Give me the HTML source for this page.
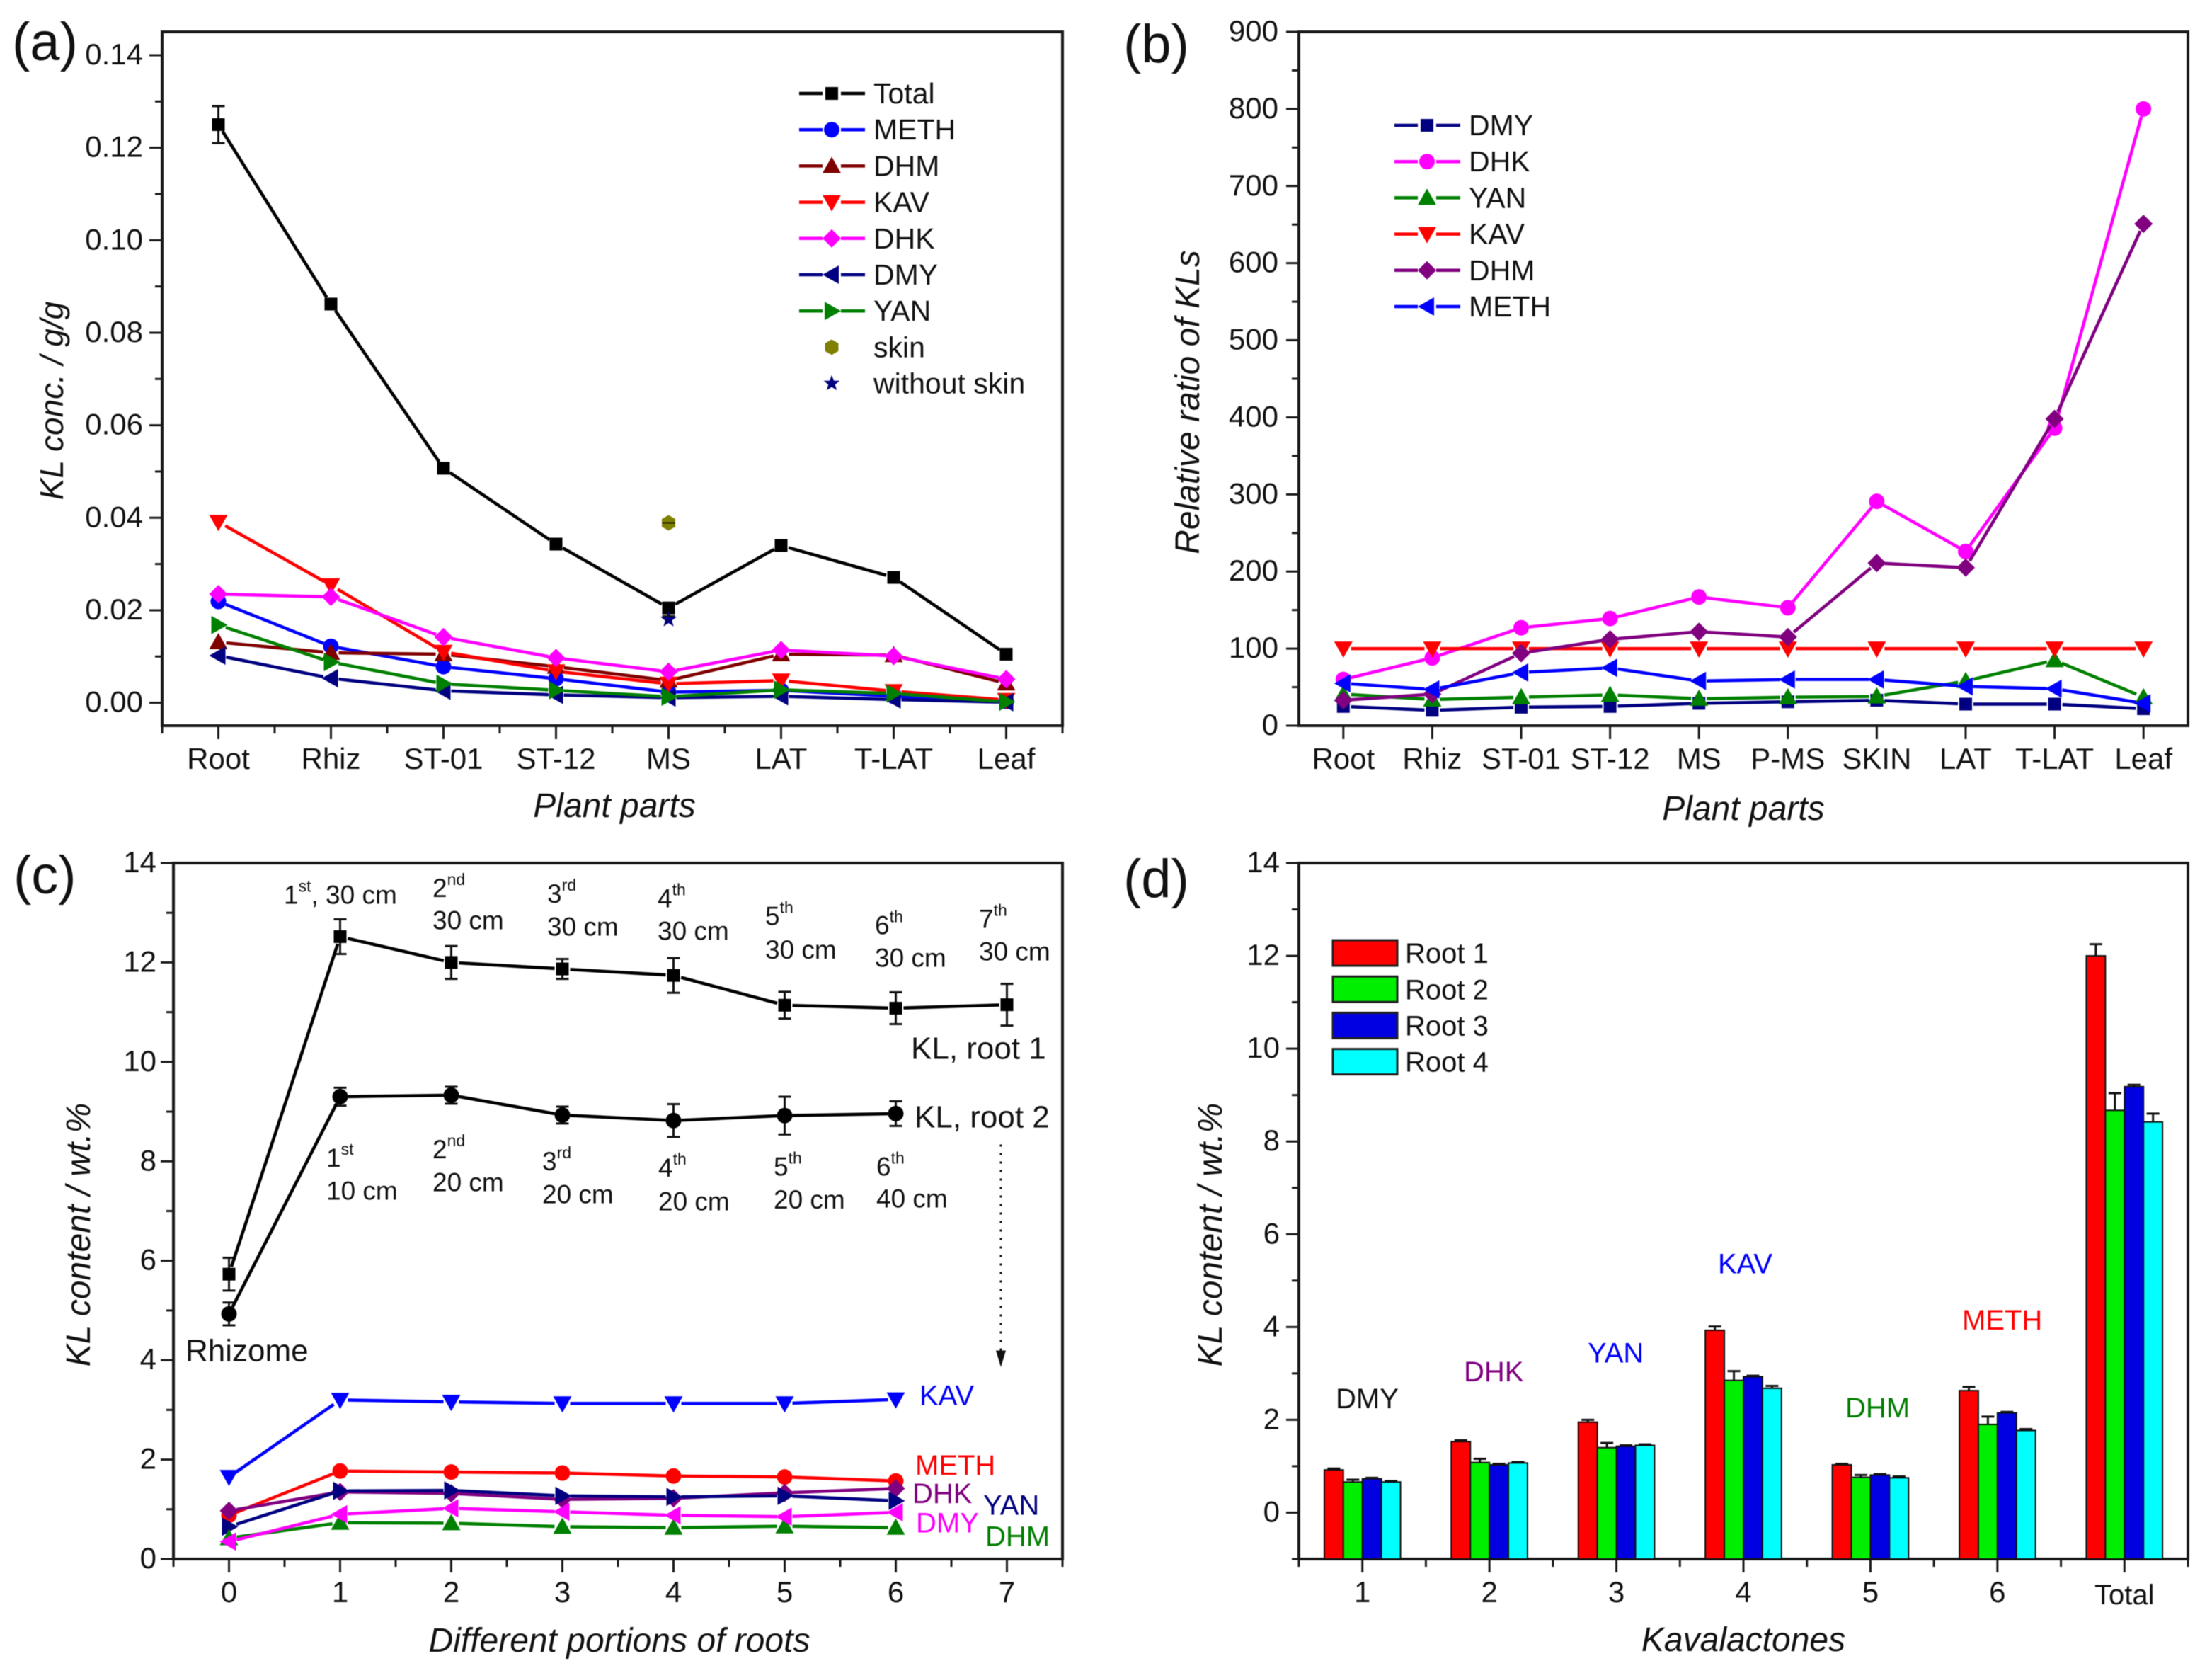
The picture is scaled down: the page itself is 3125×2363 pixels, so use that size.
<!DOCTYPE html>
<html lang="en">
<head>
<meta charset="utf-8">
<title>Kavalactone content charts</title>
<style>
html,body{margin:0;padding:0;background:#fff;}
svg{display:block;filter:blur(0.6px);}
text{font-family:"Liberation Sans",Arial,sans-serif;fill:#111;}
</style>
</head>
<body>
<svg id="figure" xmlns="http://www.w3.org/2000/svg" width="3125" height="2363" viewBox="0 0 3125 2363"></svg>
<script>
// ---------- Panel (a) data ----------
const aCategories = ['Root','Rhiz','ST-01','ST-12','MS','LAT','T-LAT','Leaf'];
const aYTicks = [0,0.02,0.04,0.06,0.08,0.10,0.12,0.14];
const aTotal = [0.125,0.0862,0.0507,0.0343,0.0205,0.034,0.0271,0.0105];
const aTotalErr = [0.004,0.0008,0.001,0.0008,0.001,0.001,0.0008,0.0008];
const aMeth = [0.0219,0.0122,0.0078,0.0052,0.0023,0.0027,0.0014,0.0003];
const aDhm = [0.0131,0.0108,0.0105,0.0078,0.0048,0.0105,0.0103,0.0042];
const aKav = [0.0391,0.0254,0.011,0.0068,0.0041,0.0048,0.0025,0.0006];
const aDhk = [0.0235,0.0229,0.0142,0.0097,0.0067,0.0114,0.0101,0.0051];
const aDmy = [0.0102,0.0053,0.0026,0.0017,0.0011,0.0014,0.0007,0.0001];
const aYan = [0.0168,0.0088,0.0041,0.0027,0.0013,0.0028,0.002,0.0002];
const aSkinValue = [0.0389];
const aNoSkinValue = [0.018];

// ---------- Panel (b) data ----------
const bCategories = ['Root','Rhiz','ST-01','ST-12','MS','P-MS','SKIN','LAT','T-LAT','Leaf'];
const bYTicks = [0,100,200,300,400,500,600,700,800,900];
const bDmy = [25,20,24,25,29,31,33,28,28,22];
const bDhk = [60,88,127,139,167,153,291,226,386,800];
const bYan = [41,34,37,40,35,37,38,58,85,37];
const bKav = [100,100,100,100,100,100,100,100,100,100];
const bDhm = [33,41,94,112,122,115,211,205,398,651];
const bMeth = [55,47,69,75,58,60,60,51,48,29];

// ---------- Panel (c) data ----------
const cXTicks = [0,1,2,3,4,5,6,7];
const cYTicks = [0,2,4,6,8,10,12,14];
const cRoot1 = [5.73,12.52,12.0,11.87,11.74,11.14,11.08,11.15];
const cRoot1Err = [0.33,0.35,0.33,0.2,0.35,0.27,0.32,0.42];
const cRoot2 = [4.93,9.3,9.33,8.93,8.82,8.92,8.96];
const cRoot2Err = [0.23,0.18,0.17,0.17,0.33,0.38,0.25];
const cKav = [1.65,3.2,3.16,3.13,3.13,3.13,3.21];
const cMeth = [0.88,1.77,1.75,1.73,1.67,1.65,1.57];
const cDhk = [0.97,1.35,1.32,1.2,1.22,1.33,1.42];
const cYan = [0.65,1.37,1.38,1.27,1.25,1.27,1.17];
const cDmy = [0.35,0.9,1.02,0.95,0.88,0.85,0.94];
const cDhm = [0.42,0.73,0.72,0.65,0.63,0.66,0.63];

// ---------- Panel (d) data ----------
const dCategories = ['1','2','3','4','5','6','Total'];
const dYTicks = [0,2,4,6,8,10,12,14];
const dRoot1 = [0.92,1.53,1.95,3.93,1.03,2.63,12.0];
const dRoot2 = [0.66,1.08,1.4,2.85,0.76,1.9,8.67];
const dRoot3 = [0.73,1.03,1.43,2.93,0.81,2.15,9.18];
const dRoot4 = [0.66,1.07,1.45,2.68,0.75,1.77,8.42];
const dRoot1Err = [0.03,0.03,0.05,0.08,0.02,0.08,0.25];
const dRoot2Err = [0.05,0.08,0.1,0.2,0.05,0.17,0.37];
const dRoot3Err = [0.02,0.02,0.02,0.02,0.02,0.02,0.04];
const dRoot4Err = [0.02,0.02,0.02,0.05,0.03,0.03,0.18];

// ---------- Helpers ----------
const NS = 'http://www.w3.org/2000/svg';
const svg = document.getElementById('figure');

function make(tag, attrs, name, parent) {
  const e = document.createElementNS(NS, tag);
  for (const k in attrs) e.setAttribute(k, attrs[k]);
  
  
  parent.appendChild(e);
  return e;
}
function group(name) {
  return make('g', {}, name, svg);
}
function scale(d0, d1, r0, r1) {
  return v => r0 + (v - d0) * (r1 - r0) / (d1 - d0);
}
function text(parent, name, str, x, y, size, opts) {
  const o = opts || {};
  const t = make('text', {x: x, y: y, 'font-size': size}, name, parent);
  if (o.anchor) t.setAttribute('text-anchor', o.anchor);
  if (o.color) t.setAttribute('style', 'fill:' + o.color);
  if (o.italic) t.setAttribute('font-style', 'italic');
  if (o.rotate) t.setAttribute('transform', 'rotate(-90 ' + x + ' ' + y + ')');
  t.textContent = str;
  return t;
}
function polyPoints(list) {
  return list.map(p => p[0].toFixed(1) + ',' + p[1].toFixed(1)).join(' ');
}
function marker(parent, name, shape, x, y, color) {
  if (shape === 'square') {
    return make('rect', {x: x - 9, y: y - 9, width: 18, height: 18, fill: color}, name, parent);
  }
  if (shape === 'circle') {
    return make('circle', {cx: x, cy: y, r: 11, fill: color}, name, parent);
  }
  let pts = [];
  if (shape === 'up') pts = [[x - 13, y + 10], [x + 13, y + 10], [x, y - 13]];
  if (shape === 'down') pts = [[x - 13, y - 10], [x + 13, y - 10], [x, y + 13]];
  if (shape === 'left') pts = [[x + 10, y - 13], [x + 10, y + 13], [x - 13, y]];
  if (shape === 'right') pts = [[x - 10, y - 13], [x - 10, y + 13], [x + 13, y]];
  if (shape === 'diamond') pts = [[x, y - 13], [x + 13, y], [x, y + 13], [x - 13, y]];
  if (shape === 'hexagon') {
    for (let i = 0; i < 6; i++) {
      const a = Math.PI / 3 * i - Math.PI / 2;
      pts.push([x + 11 * Math.cos(a), y + 11 * Math.sin(a)]);
    }
  }
  if (shape === 'star') {
    for (let i = 0; i < 10; i++) {
      const a = Math.PI / 5 * i - Math.PI / 2;
      const r = i % 2 ? 5 : 12;
      pts.push([x + r * Math.cos(a), y + r * Math.sin(a)]);
    }
  }
  return make('polygon', {points: polyPoints(pts), fill: color}, name, parent);
}
function segment(parent, name, x1, y1, x2, y2, color, width) {
  return make('line', {x1: x1, y1: y1, x2: x2, y2: y2, stroke: color, 'stroke-width': width}, name, parent);
}
function trimmedLine(parent, name, xs, ys, color) {
  const gap = 11;
  for (let i = 0; i + 1 < xs.length; i++) {
    const dx = xs[i + 1] - xs[i], dy = ys[i + 1] - ys[i];
    const len = Math.hypot(dx, dy);
    if (len <= 2 * gap) continue;
    const ux = dx / len * gap, uy = dy / len * gap;
    segment(parent, name + '-segment', xs[i] + ux, ys[i] + uy, xs[i + 1] - ux, ys[i + 1] - uy, color, 4.5);
  }
}
function drawSeries(parent, name, values, xScale, yScale, shape, color) {
  const g = make('g', {}, name, parent);
  const xs = values.map((v, i) => xScale(i));
  const ys = values.map(v => yScale(v));
  trimmedLine(g, name + '-line', xs, ys, color);
  values.forEach((v, i) => {
    marker(g, name + '-point', shape, xs[i], ys[i], color);
  });
}
function errorBars(parent, name, values, errs, xScale, yScale, both) {
  values.forEach((v, i) => {
    const x = xScale(i);
    const top = yScale(v + errs[i]);
    const bot = both ? yScale(v - errs[i]) : yScale(v);
    segment(parent, name + '-stem', x, top, x, bot, '#111', 3);
    segment(parent, name + '-cap', x - 9, top, x + 9, top, '#111', 3);
    if (both) segment(parent, name + '-cap', x - 9, bot, x + 9, bot, '#111', 3);
  });
}
function frame(parent, name, left, top, right, bottom) {
  make('rect', {x: left, y: top, width: right - left, height: bottom - top, fill: 'none', stroke: '#1a1a1a', 'stroke-width': 4}, name, parent);
}
function yAxis(parent, left, yScale, ticks, minorStep, minV, maxV, labelRight, fmt) {
  for (let v = minV; v <= maxV + 1e-9; v += minorStep) {
    const isMajor = ticks.some(t => Math.abs(t - v) < minorStep / 10);
    segment(parent, isMajor ? 'y-major-tick' : 'y-minor-tick', left - (isMajor ? 18 : 10), yScale(v), left, yScale(v), '#1a1a1a', 3);
  }
  ticks.forEach(t => {
    text(parent, 'y-tick-label', fmt(t), labelRight, yScale(t) + 13, 42, {anchor: 'end'});
  });
}
function xAxis(parent, bottom, xScale, count, withMinor) {
  for (let i = 0; i < count; i++) {
    segment(parent, 'x-major-tick', xScale(i), bottom, xScale(i), bottom + 19, '#1a1a1a', 3);
  }
  if (!withMinor) return;
  for (let i = -1; i < count; i++) {
    const x = xScale(i + 0.5);
    segment(parent, 'x-minor-tick', x, bottom, x, bottom + 11, '#1a1a1a', 3);
  }
}
function legendRow(parent, name, label, shape, color, x, y, hasLine) {
  const g = make('g', {}, name, parent);
  if (hasLine) {
    segment(g, name + '-line-left', x, y, x + 33, y, color, 4.5);
    segment(g, name + '-line-right', x + 59, y, x + 93, y, color, 4.5);
  }
  marker(g, name + '-symbol', shape, x + 46, y, color);
  text(g, name + '-label', label, x + 105, y + 14, 41);
}

// ---------- Panel (a) ----------
const pa = group('panel-a');
const xA = scale(-0.5, 7.5, 229, 1501);
const yA = scale(0, 0.14, 992.6, 78);
frame(pa, 'plot-frame-a', 229, 45, 1501, 1025);
yAxis(pa, 229, yA, aYTicks, 0.01, 0, 0.14, 202, v => v.toFixed(2));
xAxis(pa, 1025, xA, aCategories.length, true);
aCategories.forEach((c, i) => {
  text(pa, 'x-tick-label', c, xA(i), 1086, 42, {anchor: 'middle'});
});
text(pa, 'x-axis-title', 'Plant parts', 868, 1154, 48, {anchor: 'middle', italic: true});
text(pa, 'y-axis-title', 'KL conc. / g/g', 89, 566, 46, {anchor: 'middle', italic: true, rotate: true});
text(pa, 'panel-label-a', '(a)', 17, 85, 76);
errorBars(pa, 'total-error', aTotal, aTotalErr, xA, yA, true);
drawSeries(pa, 'series-total', aTotal, xA, yA, 'square', '#000000');
drawSeries(pa, 'series-meth', aMeth, xA, yA, 'circle', '#0000ff');
drawSeries(pa, 'series-dhm', aDhm, xA, yA, 'up', '#800000');
drawSeries(pa, 'series-kav', aKav, xA, yA, 'down', '#ff0000');
drawSeries(pa, 'series-dhk', aDhk, xA, yA, 'diamond', '#ff00ff');
drawSeries(pa, 'series-dmy', aDmy, xA, yA, 'left', '#000080');
drawSeries(pa, 'series-yan', aYan, xA, yA, 'right', '#008000');
marker(pa, 'skin-point', 'hexagon', xA(4), yA(aSkinValue[0]), '#808000');
segment(pa, 'skin-error', xA(4) - 9, yA(aSkinValue[0]), xA(4) + 9, yA(aSkinValue[0]), '#111', 2);
marker(pa, 'without-skin-point', 'star', xA(4), yA(aNoSkinValue[0]), '#000080');
segment(pa, 'without-skin-error', xA(4) - 9, yA(aNoSkinValue[0]) - 5, xA(4) + 9, yA(aNoSkinValue[0]) - 5, '#111', 2);
const la = make('g', {}, 'legend-a', pa);
const laRows = [['Total','square','#000000',1],['METH','circle','#0000ff',1],['DHM','up','#800000',1],['KAV','down','#ff0000',1],['DHK','diamond','#ff00ff',1],['DMY','left','#000080',1],['YAN','right','#008000',1],['skin','hexagon','#808000',0],['without skin','star','#000080',0]];
laRows.forEach((r, i) => {
  legendRow(la, 'legend-entry-' + r[0].replace(' ', '-').toLowerCase(), r[0], r[1], r[2], 1129, 132 + i * 51.2, r[3]);
});

// ---------- Panel (b) ----------
const pb = group('panel-b');
const xB = scale(-0.5, 9.5, 1835, 3091);
const yB = scale(0, 900, 1025, 45);
frame(pb, 'plot-frame-b', 1835, 45, 3091, 1025);
yAxis(pb, 1835, yB, bYTicks, 50, 0, 900, 1806, v => String(v));
xAxis(pb, 1025, xB, bCategories.length, false);
bCategories.forEach((c, i) => {
  text(pb, 'x-tick-label', c, xB(i), 1086, 42, {anchor: 'middle'});
});
text(pb, 'x-axis-title', 'Plant parts', 2463, 1158, 48, {anchor: 'middle', italic: true});
text(pb, 'y-axis-title', 'Relative ratio of KLs', 1694, 568, 48, {anchor: 'middle', italic: true, rotate: true});
text(pb, 'panel-label-b', '(b)', 1587, 88, 76);
drawSeries(pb, 'series-dmy', bDmy, xB, yB, 'square', '#000080');
drawSeries(pb, 'series-dhk', bDhk, xB, yB, 'circle', '#ff00ff');
drawSeries(pb, 'series-yan', bYan, xB, yB, 'up', '#008000');
drawSeries(pb, 'series-kav', bKav, xB, yB, 'down', '#ff0000');
drawSeries(pb, 'series-dhm', bDhm, xB, yB, 'diamond', '#800080');
drawSeries(pb, 'series-meth', bMeth, xB, yB, 'left', '#0000ff');
const lb = make('g', {}, 'legend-b', pb);
const lbRows = [['DMY','square','#000080'],['DHK','circle','#ff00ff'],['YAN','up','#008000'],['KAV','down','#ff0000'],['DHM','diamond','#800080'],['METH','left','#0000ff']];
lbRows.forEach((r, i) => {
  legendRow(lb, 'legend-entry-' + r[0].toLowerCase(), r[0], r[1], r[2], 1970, 177 + i * 51.2, 1);
});

// ---------- Panel (c) ----------
const pc = group('panel-c');
const xC = scale(-0.5, 7.5, 245, 1501);
const yC = scale(0, 14, 2202, 1219);
const zc = z => 1178 + z * 0.756;
frame(pc, 'plot-frame-c', 245, 1219, 1501, 2202);
yAxis(pc, 245, yC, cYTicks, 1, 0, 14, 221, v => String(v));
xAxis(pc, 2202, xC, cXTicks.length, true);
cXTicks.forEach((c, i) => {
  text(pc, 'x-tick-label', String(c), xC(i), 2263, 42, {anchor: 'middle'});
});
text(pc, 'x-axis-title', 'Different portions of roots', 875, 2333, 48, {anchor: 'middle', italic: true});
text(pc, 'y-axis-title', 'KL content / wt.%', 127, 1744, 48, {anchor: 'middle', italic: true, rotate: true});
text(pc, 'panel-label-c', '(c)', 19, 1262, 76);
errorBars(pc, 'root1-error', cRoot1, cRoot1Err, xC, yC, true);
errorBars(pc, 'root2-error', cRoot2, cRoot2Err, xC, yC, true);
drawSeries(pc, 'series-kl-root-1', cRoot1, xC, yC, 'square', '#000000');
drawSeries(pc, 'series-kl-root-2', cRoot2, xC, yC, 'circle', '#000000');
drawSeries(pc, 'series-kav', cKav, xC, yC, 'down', '#0000ff');
drawSeries(pc, 'series-meth', cMeth, xC, yC, 'circle', '#ff0000');
drawSeries(pc, 'series-dhk', cDhk, xC, yC, 'diamond', '#800080');
drawSeries(pc, 'series-yan', cYan, xC, yC, 'right', '#000080');
drawSeries(pc, 'series-dhm', cDhm, xC, yC, 'up', '#008000');
drawSeries(pc, 'series-dmy', cDmy, xC, yC, 'left', '#ff00ff');

function ordinal(parent, name, num, sup, tail, x, y) {
  const t = make('text', {x: x, y: y, 'font-size': 37}, name, parent);
  t.appendChild(document.createTextNode(num));
  const s = document.createElementNS(NS, 'tspan');
  s.setAttribute('font-size', 23);
  s.setAttribute('dy', -17);
  s.textContent = sup;
  t.appendChild(s);
  if (tail) {
    const r = document.createElementNS(NS, 'tspan');
    r.setAttribute('dy', 17);
    r.textContent = tail;
    t.appendChild(r);
  }
}
ordinal(pc, 'annotation-root1-portion-1', '1', 'st', ', 30 cm', 401, zc(130));
const upperNotes = [['2','nd',611,118,178],['3','rd',773,128,190],['4','th',929,137,198],['5','th',1081,170,233],['6','th',1236,187,248],['7','th',1383,175,236]];
upperNotes.forEach(n => {
  ordinal(pc, 'annotation-root1-portion-' + n[0], n[0], n[1], '', n[2], zc(n[3]));
  text(pc, 'annotation-root1-length-' + n[0], '30 cm', n[2], zc(n[4]), 37);
});
const lowerNotes = [['1','st','10 cm',461,622,683],['2','nd','20 cm',611,606,667],['3','rd','20 cm',766,628,690],['4','th','20 cm',930,640,703],['5','th','20 cm',1093,638,700],['6','th','40 cm',1238,638,698]];
lowerNotes.forEach(n => {
  ordinal(pc, 'annotation-root2-portion-' + n[0], n[0], n[1], '', n[3], zc(n[4]));
  text(pc, 'annotation-root2-length-' + n[0], n[2], n[3], zc(n[5]), 37);
});
text(pc, 'label-kl-root-1', 'KL, root 1', 1287, zc(420), 44);
text(pc, 'label-kl-root-2', 'KL, root 2', 1292, zc(548), 44);
text(pc, 'label-rhizome', 'Rhizome', 262, zc(985), 44);
text(pc, 'label-kav', 'KAV', 1299, zc(1067), 40, {color: '#0000ff'});
text(pc, 'label-meth', 'METH', 1293, zc(1197), 40, {color: '#ff0000'});
text(pc, 'label-dhk', 'DHK', 1289, zc(1250), 40, {color: '#800080'});
text(pc, 'label-dmy', 'DMY', 1294, zc(1305), 40, {color: '#ff00ff'});
text(pc, 'label-yan', 'YAN', 1389, zc(1272), 40, {color: '#000080'});
text(pc, 'label-dhm', 'DHM', 1392, zc(1330), 40, {color: '#008000'});
const dotted = segment(pc, 'dotted-arrow-line', 1414, zc(580), 1414, zc(965), '#111', 3);
dotted.setAttribute('stroke-dasharray', '3 9');
make('polygon', {points: polyPoints([[1407, zc(965)], [1421, zc(965)], [1414, zc(996)]]), fill: '#111'}, 'dotted-arrow-head', pc);

// ---------- Panel (d) ----------
const pd = group('panel-d');
const xD = scale(-0.5, 6.5, 1835, 3091);
const yD = scale(-1, 14, 2202, 1219);
frame(pd, 'plot-frame-d', 1835, 1219, 3091, 2202);
yAxis(pd, 1835, yD, dYTicks, 1, -1, 14, 1808, v => String(v));
xAxis(pd, 2202, xD, dCategories.length, true);
dCategories.forEach((c, i) => {
  text(pd, 'x-tick-label', c, xD(i), i === 6 ? 2266 : 2263, i === 6 ? 40 : 42, {anchor: 'middle'});
});
text(pd, 'x-axis-title', 'Kavalactones', 2463, 2332, 48, {anchor: 'middle', italic: true});
text(pd, 'y-axis-title', 'KL content / wt.%', 1726, 1744, 48, {anchor: 'middle', italic: true, rotate: true});
text(pd, 'panel-label-d', '(d)', 1587, 1267, 76);
const dColors = ['#ff0000','#00ee00','#0000e0','#00ffff'];
const dSeries = [dRoot1, dRoot2, dRoot3, dRoot4];
const dErrors = [dRoot1Err, dRoot2Err, dRoot3Err, dRoot4Err];
const barWidth = 0.15;
dSeries.forEach((values, s) => {
  const g = make('g', {}, 'bars-root-' + (s + 1), pd);
  const barLeft = i => xD(i + (s - 2) * barWidth);
  const barCenter = i => xD(i + (s - 1.5) * barWidth);
  errorBars(g, 'root-' + (s + 1) + '-error', values, dErrors[s], barCenter, yD, false);
  values.forEach((v, i) => {
    const top = yD(v);
    const bar = make('rect', {x: barLeft(i), y: top, width: xD(barWidth) - xD(0), height: yD(-1) - top, fill: dColors[s], stroke: '#111', 'stroke-width': 2}, 'bar-root-' + (s + 1), g);
  });
});
const dLegendLabels = ['Root 1','Root 2','Root 3','Root 4'];
const ld = make('g', {}, 'legend-d', pd);
dLegendLabels.forEach((label, i) => {
  const rowY = 1179 + (221 + i * 67.7) * 0.756;
  make('rect', {x: 1883, y: rowY - 18, width: 91, height: 36, fill: dColors[i], stroke: '#222', 'stroke-width': 3}, 'legend-swatch-root-' + (i + 1), ld);
  text(ld, 'legend-label-root-' + (i + 1), label, 1985, rowY + 14, 40);
});
text(pd, 'label-dmy', 'DMY', 1887, 2 + zc(1070), 40, {color: '#111111'});
text(pd, 'label-dhk', 'DHK', 2068, 2 + zc(1020), 40, {color: '#800080'});
text(pd, 'label-yan', 'YAN', 2243, 2 + zc(985), 40, {color: '#0000ff'});
text(pd, 'label-kav', 'KAV', 2427, 2 + zc(818), 40, {color: '#0000ff'});
text(pd, 'label-dhm', 'DHM', 2607, 2 + zc(1087), 40, {color: '#008000'});
text(pd, 'label-meth', 'METH', 2772, 2 + zc(923), 40, {color: '#ff0000'});
</script>
</body>
</html>
